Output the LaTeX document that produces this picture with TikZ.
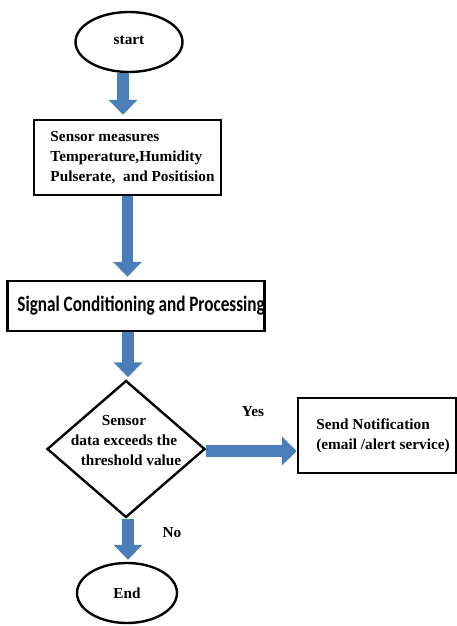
\documentclass[tikz,border=0pt]{standalone}
\usepackage{fontspec}
\setmainfont{Liberation Serif}
\newfontfamily\calib{Carlito}
\usetikzlibrary{shapes.geometric,arrows.meta}
\definecolor{arrblue}{HTML}{4A7EBB}
\tikzset{
  lbl/.style={font=\fontsize{15.3}{20}\selectfont\bfseries},
  outl/.style={draw=black, line width=2.4pt, inner sep=0pt},
  termnode/.style={outl, ellipse, lbl},
  boxnode/.style={outl, rectangle, lbl},
  decnode/.style={outl, diamond, minimum width=158pt, minimum height=137pt},
  fat/.style={draw=arrblue, line width=11.5pt, -{Triangle[length=15pt,width=28pt,fill=arrblue]}},
}
\begin{document}
\begin{tikzpicture}[x=1pt,y=-1pt]
\useasboundingbox (0,0) rectangle (457,626);
\node[termnode, minimum width=107pt, minimum height=60pt] (start) at (129,42) {\raisebox{3pt}{start}};
\node[boxnode, minimum width=187pt, minimum height=75pt, align=left] (meas) at (127.5,157.5)
  {\hspace*{10pt}Sensor measures\\\hspace*{10pt}Temperature,Humidity\\\hspace*{10pt}Pulserate,\ \ and Positision};
\node[boxnode, minimum width=256pt, minimum height=50pt] (sig) at (136,306)
  {\hspace*{10pt}\calib\bfseries\scalebox{0.78}[1]{\fontsize{22}{24}\selectfont Signal Conditioning and Processing}};
\node[decnode] (dec) at (126,449) {};
\node[lbl, align=center] (dectext) at (124,441)
  {Sensor\\data exceeds the\hspace*{18pt}\\\hspace*{14pt}threshold value};
\node[boxnode, minimum width=158pt, minimum height=75pt, align=left] (notif) at (377,435.5)
  {\hspace*{12pt}Send Notification\\\hspace*{12pt}(email /alert service)};
\node[termnode, minimum width=100pt, minimum height=60pt] (end) at (127,593) {\raisebox{-10pt}{End}};
\node[lbl] (yes) at (253,412) {Yes};
\node[lbl] (no) at (172,533) {No};
\draw[fat] ([xshift=-6pt]start.south) -- ([xshift=-4.5pt,yshift=4pt]meas.north);
\draw[fat] (meas.south) -- ([yshift=3pt]meas.south |- sig.north);
\draw[fat] ([xshift=2pt]sig.south -| dec.north) -- ([xshift=2pt,yshift=2pt]dec.north);
\draw[fat] ([yshift=-2pt]dec.east) -- ([yshift=-2pt]dec.east -| notif.west);
\draw[fat] ([xshift=2pt]dec.south) -- ([xshift=2pt,yshift=2pt]dec.south |- end.north);
\end{tikzpicture}
\end{document}
